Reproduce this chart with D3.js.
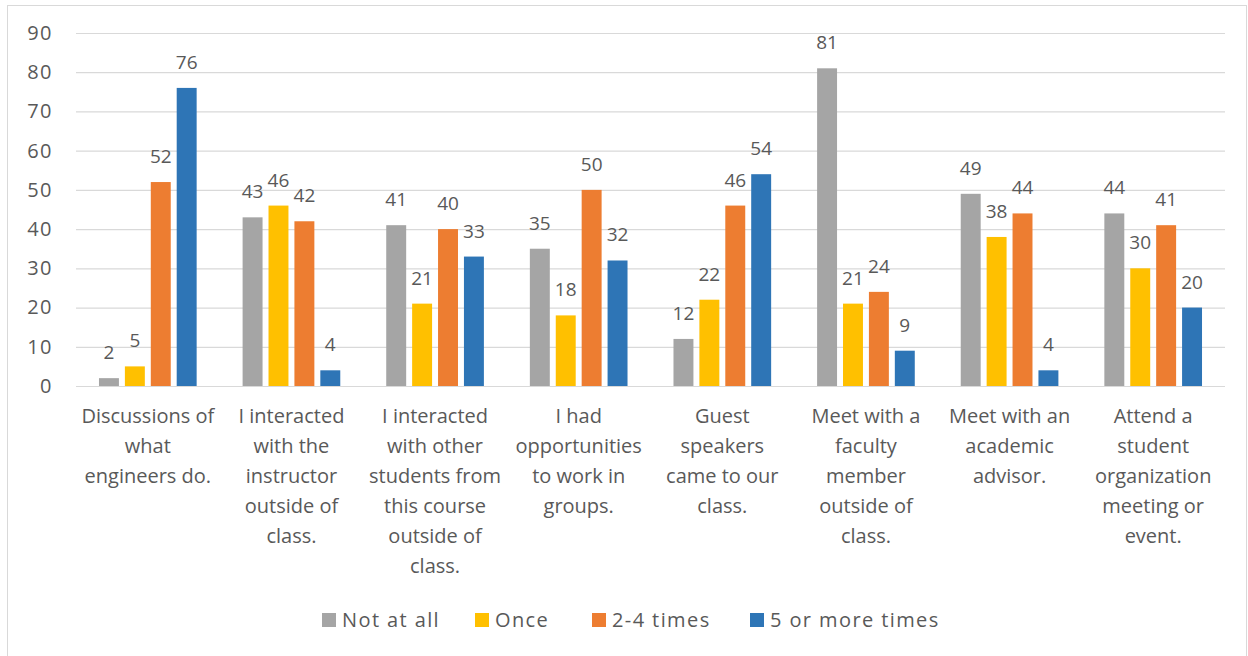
<!DOCTYPE html>
<html>
<head>
<meta charset="utf-8">
<script src="https://cdn.jsdelivr.net/npm/d3@7"></script>
<style>
  html, body { margin: 0; padding: 0; background: #fff; }
  svg { display: block; }
  text { font-family: "Open Sans", "DejaVu Sans", sans-serif; fill: #595959; }
</style>
</head>
<body>
<div id="chart"></div>
<script>
// Categories (wrapped as in the original axis labels)
const categories = [
    ['Discussions of', 'what', 'engineers do.'],
    ['I interacted', 'with the', 'instructor', 'outside of', 'class.'],
    ['I interacted', 'with other', 'students from', 'this course', 'outside of', 'class.'],
    ['I had', 'opportunities', 'to work in', 'groups.'],
    ['Guest', 'speakers', 'came to our', 'class.'],
    ['Meet with a', 'faculty', 'member', 'outside of', 'class.'],
    ['Meet with an', 'academic', 'advisor.'],
    ['Attend a', 'student', 'organization', 'meeting or', 'event.']
];

const seriesNames = ['Not at all', 'Once', '2-4 times', '5 or more times'];
const seriesColors = ['#a5a5a5', '#ffc000', '#ed7d31', '#2e75b6'];

const notAtAll = [2, 43, 41, 35, 12, 81, 49, 44];
const once = [5, 46, 21, 18, 22, 21, 38, 30];
const twoToFour = [52, 42, 40, 50, 46, 24, 44, 41];
const fiveOrMore = [76, 4, 33, 32, 54, 9, 4, 20];

const yTicks = [0, 10, 20, 30, 40, 50, 60, 70, 80, 90];

const seriesValues = [notAtAll, once, twoToFour, fiveOrMore];

const width = 1248, height = 656;
const margin = { top: 33, right: 23, bottom: 270, left: 76 };

const svg = d3.select('#chart')
    .append('svg')
    .attr('width', width)
    .attr('height', height);

// chart frame
svg.append('rect')
    .attr('x', 7.5)
    .attr('y', 5.5)
    .attr('width', 1239)
    .attr('height', 660)
    .attr('fill', 'none')
    .attr('stroke', '#d9d9d9');

const catKeys = categories.map((_, i) => String(i));

const x0 = d3.scaleBand()
    .domain(catKeys)
    .range([margin.left, width - margin.right])
    .paddingInner(0.32)
    .paddingOuter(0.16);

const x1 = d3.scaleBand()
    .domain(seriesNames)
    .range([0, x0.bandwidth()])
    .paddingInner(0.23)
    .paddingOuter(0);

const y = d3.scaleLinear()
    .domain([0, 90])
    .range([height - margin.bottom, margin.top]);

// Gridlines + y tick labels
const yAxis = d3.axisLeft(y)
    .tickValues(yTicks)
    .tickSize(-(width - margin.left - margin.right))
    .tickPadding(23);

const yAxisGroup = svg.append('g')
    .attr('transform', `translate(${margin.left},0)`)
    .call(yAxis);

yAxisGroup.select('.domain').remove();
yAxisGroup.selectAll('line').attr('stroke', '#d9d9d9').attr('stroke-width', 1.2);
yAxisGroup.selectAll('text')
    .attr('fill', '#595959')
    .style('font-size', '20px')
    .style('letter-spacing', '1.5px')
    .style('font-family', '"Open Sans", sans-serif');

// Bars
const rows = categories.map((c, i) => ({
    key: String(i),
    values: seriesNames.map((s, j) => ({ series: s, color: seriesColors[j], value: seriesValues[j][i] }))
}));

const groups = svg.selectAll('g.cat')
    .data(rows)
    .join('g')
    .attr('class', 'cat')
    .attr('transform', d => `translate(${x0(d.key)},0)`);

groups.selectAll('rect')
    .data(d => d.values)
    .join('rect')
    .attr('x', d => x1(d.series))
    .attr('y', d => y(d.value))
    .attr('width', x1.bandwidth())
    .attr('height', d => y(0) - y(d.value))
    .attr('fill', d => d.color);

// Data labels
groups.selectAll('text.val')
    .data(d => d.values)
    .join('text')
    .attr('class', 'val')
    .attr('x', d => x1(d.series) + x1.bandwidth() / 2)
    .attr('y', d => y(d.value) - 19)
    .attr('text-anchor', 'middle')
    .style('font-size', '19px')
    .text(d => d.value);

// Category labels
const catLabels = svg.selectAll('text.cat-label')
    .data(categories)
    .join('text')
    .attr('class', 'cat-label')
    .attr('text-anchor', 'middle')
    .style('font-size', '20px')
    .attr('transform', (d, i) => `translate(${x0(String(i)) + x0.bandwidth() / 2},${y(0) + 37})`);

catLabels.selectAll('tspan')
    .data(d => d)
    .join('tspan')
    .attr('x', 0)
    .attr('y', (d, i) => i * 30)
    .text(d => d);

// Legend
const legendX = [322, 475, 592, 750];
const legend = svg.append('g').attr('class', 'legend');
const items = legend.selectAll('g')
    .data(seriesNames)
    .join('g')
    .attr('transform', (d, i) => `translate(${legendX[i]},620)`);

items.append('rect')
    .attr('x', 0)
    .attr('y', -7)
    .attr('width', 14)
    .attr('height', 14)
    .attr('fill', (d, i) => seriesColors[i]);

items.append('text')
    .attr('x', 20)
    .attr('y', 0)
    .attr('dy', '0.35em')
    .style('font-size', '20px')
    .style('letter-spacing', '1.4px')
    .text(d => d);
</script>
</body>
</html>
